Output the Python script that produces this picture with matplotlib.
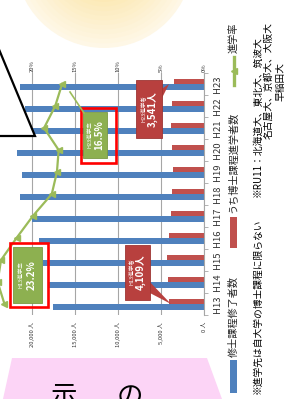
import numpy as np
import matplotlib
matplotlib.use("Agg")
import matplotlib.pyplot as plt
from matplotlib.patches import Rectangle, Polygon, Circle

plt.rcParams['font.family'] = ['Noto Sans CJK JP', 'DejaVu Sans']

# ---- data ----
categories = ["H13", "H14", "H15", "H16", "H17", "H18", "H19", "H20", "H21", "H22", "H23"]
master_graduates = [17550, 18150, 18700, 19150, 19950, 21450, 21200, 21700, 21000, 20800, 21450]
doctoral_entrants = [4109, 4150, 4340, 4070, 3840, 3720, 3600, 3760, 3880, 3760, 3541]
entry_rate = [23.2, 24.0, 23.6, 21.8, 19.9, 17.7, 17.1, 16.9, 18.6, 17.3, 16.5]
value_ticks = [0, 5000, 10000, 15000, 20000]
rate_ticks = [0, 5, 10, 15, 20]
series_names = ["修士課程修了者数", "うち博士課程進学者数", "進学率"]

BLUE = "#4F81BD"
RED = "#C0504D"
GREEN = "#9BBB59"
GRID = "#A6A6A6"

W, H = 287, 399
fig = plt.figure(figsize=(W / 100, H / 100), dpi=100)

def fr(x0, y0, x1, y1):
    return [x0 / W, 1 - y1 / H, (x1 - x0) / W, (y1 - y0) / H]

# ---- main (rotated) chart ----
ax = fig.add_axes(fr(-11, 73, 204, 315))
idx = np.arange(len(categories))
ax.barh(idx - 0.125, master_graduates, height=0.25, color=BLUE, zorder=2)
ax.barh(idx + 0.125, doctoral_entrants, height=0.25, color=RED, zorder=2)
ax.set_xlim(25000, 0)
ax.set_ylim(-0.5, len(categories) - 0.5)
ax.set_xticks(value_ticks)
ax.set_xticklabels([f"{v:,} 人" for v in value_ticks])
ax.tick_params(axis='x', length=0, pad=5, labelsize=4.2, labelrotation=90, colors="#333333")
ax.xaxis.grid(True, color=GRID, lw=0.8)
ax.set_axisbelow(True)
ax.yaxis.tick_right()
ax.set_yticks(idx)
ax.set_yticklabels(categories)
ax.set_yticks(np.arange(-0.5, len(categories), 1), minor=True)
ax.tick_params(axis='y', which='major', length=0, pad=6.5, labelsize=6.8, colors="#333333")
ax.tick_params(axis='y', which='minor', length=3, color=GRID, right=True, left=False)
for lab in ax.get_yticklabels():
    lab.set_rotation(90)
    lab.set_va('center')
for s in ['top', 'left', 'bottom']:
    ax.spines[s].set_visible(False)
ax.spines['right'].set_color(GRID)
ax.patch.set_alpha(0)

ax2 = ax.twiny()
ax2.set_xlim(25, 0)
ax2.plot(entry_rate, idx, color=GREEN, lw=1.6, marker='<', ms=4.5, zorder=3)
ax2.set_xticks(rate_ticks)
ax2.set_xticklabels([f"{v}%" for v in rate_ticks])
ax2.tick_params(axis='x', length=0, pad=1, labelsize=4.2, labelrotation=90, colors="#333333")
for s in ax2.spines.values():
    s.set_visible(False)

# ---- overlay for decorations (pixel coordinates) ----
ov = fig.add_axes([0, 0, 1, 1], zorder=10)
ov.set_xlim(0, W)
ov.set_ylim(H, 0)
ov.axis('off')
ov.patch.set_alpha(0)

# yellow circle top
c0 = np.array([254, 247, 230]) / 255
c1 = np.array([251, 229, 168]) / 255
n = 14
for i in range(n):
    t = i / (n - 1)
    r = 89 - 60 * t
    ov.add_patch(Circle((104, -41), r, fc=tuple(c0 * (1 - t) + c1 * t), ec='none'))

# pink shape bottom
ov.add_patch(Polygon([(12, 358), (207, 358), (222, 399), (3, 399)], closed=True,
                     fc="#FCD4F6", ec='none'))
ov.text(63.5, 404, "示", fontsize=19, ha='center', va='baseline', color='black')
ov.text(130, 404, "の", fontsize=19, ha='center', va='baseline', color='black')

# white callout triangle with black border
ov.add_patch(Polygon([(-34, -30), (35, 136), (-10, 136)], closed=True,
                     fc='white', ec='black', lw=1.6))

# green callouts
ov.add_patch(Rectangle((13, 247), 29, 56, fc="#8DB050", ec="#7A9A43", lw=0.6))
ov.text(21, 275, "H13進学率", rotation=90, fontsize=4, color='white', ha='center', va='center')
ov.text(31.5, 275, "23.2%", rotation=90, fontsize=7, color='white', ha='center', va='center', weight='bold')
ov.plot([70, 84], [92, 113], color=GREEN, lw=1.2)
ov.add_patch(Rectangle((83, 112), 24, 46, fc="#8DB050", ec="#7A9A43", lw=0.6))
ov.text(89.5, 135, "H23進学率", rotation=90, fontsize=4, color='white', ha='center', va='center')
ov.text(99.5, 135, "16.5%", rotation=90, fontsize=7, color='white', ha='center', va='center', weight='bold')

# red callouts
ov.add_patch(Polygon([(160, 90), (160, 102), (169, 84)], closed=True, fc="#B8403E", ec='none'))
ov.add_patch(Rectangle((136, 80), 26, 58, fc="#B8403E", ec="#9E3533", lw=0.6))
ov.text(142.5, 109, "H23進学者", rotation=90, fontsize=4, color='white', ha='center', va='center')
ov.text(153, 109, "3,541人", rotation=90, fontsize=7, color='white', ha='center', va='center', weight='bold')
ov.add_patch(Polygon([(148, 280), (148, 292), (171, 304)], closed=True, fc="#B8403E", ec='none'))
ov.add_patch(Rectangle((125, 245), 25, 55, fc="#B8403E", ec="#9E3533", lw=0.6))
ov.text(131, 272, "H13進学者", rotation=90, fontsize=4, color='white', ha='center', va='center')
ov.text(141, 272, "4,109人", rotation=90, fontsize=7, color='white', ha='center', va='center', weight='bold')

# red highlight frames
ov.add_patch(Rectangle((9.5, 243), 38, 64, fc='none', ec='#FF0000', lw=1.9))
ov.add_patch(Rectangle((80.5, 108), 35, 55, fc='none', ec='#FF0000', lw=1.9))

# legend
ov.add_patch(Rectangle((230, 360), 7, 33, fc=BLUE, ec='none'))
ov.text(233.5, 357, series_names[0], rotation=90, fontsize=7.3, ha='center', va='bottom', color='#222222')
ov.add_patch(Rectangle((230, 217), 7, 31, fc=RED, ec='none'))
ov.text(233.5, 213, series_names[1], rotation=90, fontsize=7.3, ha='center', va='bottom', color='#222222')
ov.plot([233.5, 233.5], [57, 85], color=GREEN, lw=2.4)
ov.plot([233.5], [71], color=GREEN, marker='<', ms=5)
ov.text(233.5, 53, series_names[2], rotation=90, fontsize=7.3, ha='center', va='bottom', color='#222222')

# footnotes
ov.text(257.5, 394, "※進学先は自大学の博士課程に限らない", rotation=90, fontsize=7.0,
        ha='center', va='bottom', color='black')
ov.text(257, 197, "※RU11：北海道大、東北大、筑波大", rotation=90, fontsize=7.0,
        ha='center', va='bottom', color='black')
ov.text(268.5, 139, "名古屋大、京都大、大阪大", rotation=90, fontsize=7.0,
        ha='center', va='bottom', color='black')
ov.text(280, 101, "早稲田大", rotation=90, fontsize=7.0,
        ha='center', va='bottom', color='black')

fig.savefig("out.png", dpi=100)
